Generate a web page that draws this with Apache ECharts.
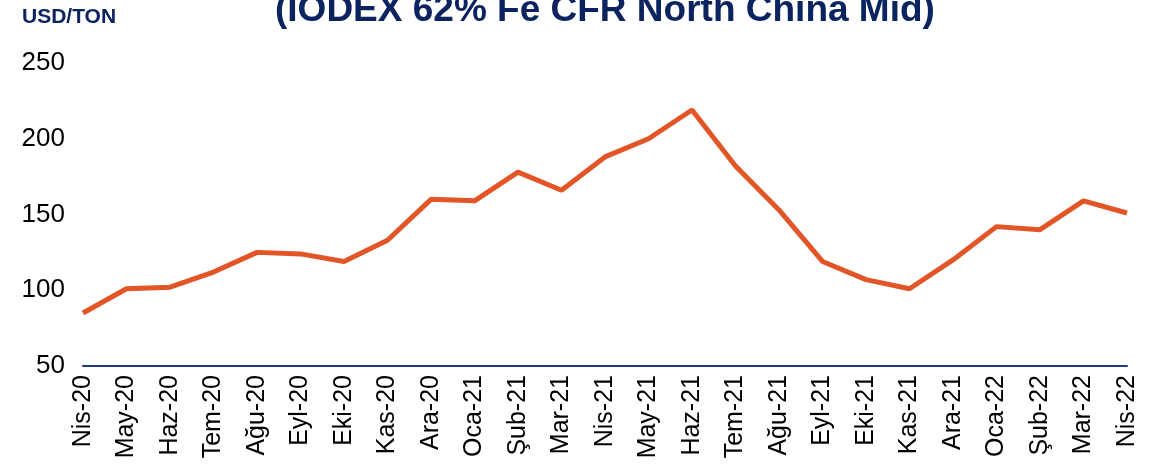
<!DOCTYPE html>
<html>
<head>
<meta charset="utf-8">
<script src="https://cdn.jsdelivr.net/npm/echarts@6/dist/echarts.min.js"></script>
<style>
html,body{margin:0;padding:0;background:#fff;}
#main{width:1165px;height:472px;}
</style>
</head>
<body>
<div id="main"></div>
<script>
// aylar ve demir cevheri fiyatlari
var months = ['Nis-20','May-20','Haz-20','Tem-20','Ağu-20','Eyl-20','Eki-20','Kas-20','Ara-20',
	'Oca-21','Şub-21','Mar-21','Nis-21','May-21','Haz-21','Tem-21','Ağu-21','Eyl-21','Eki-21',
	'Kas-21','Ara-21','Oca-22','Şub-22','Mar-22','Nis-22'];
var prices = [85, 101, 102, 112, 125, 124, 119, 133, 160, 159, 178, 166, 188, 200, 219,
	182, 153, 119, 107, 101, 120, 142, 140, 159, 151];
var yTicks = [50, 100, 150, 200, 250];

var myChart = echarts.init(document.getElementById('main'));
var option = {
	animation: false,
	title: [{
		text: '(IODEX 62% Fe CFR North China Mid)',
		left: 270,
		top: -13,
		textStyle: {
			color: '#0b2460',
			fontFamily: 'Liberation Sans',
			fontWeight: 'bold',
			fontSize: 37
		}
	}, {
		text: 'USD/TON',
		left: 17,
		top: 2,
		textStyle: {
			color: '#0b2460',
			fontFamily: 'Liberation Sans',
			fontWeight: 'bold',
			fontSize: 21
		}
	}],
	grid: {
		left: 83,
		right: 38,
		top: 63,
		bottom: 106
	},
	xAxis: {
		type: 'category',
		data: months,
		boundaryGap: false,
		axisLine: {lineStyle: {color: '#1f3c7a', width: 2}},
		axisTick: {show: false},
		axisLabel: {
			interval: 0,
			rotate: 90,
			margin: 9,
			color: '#000',
			fontFamily: 'Liberation Sans',
			fontSize: 25
		}
	},
	yAxis: {
		type: 'value',
		min: yTicks[0],
		max: yTicks[yTicks.length - 1],
		interval: 50,
		axisLine: {show: false},
		axisTick: {show: false},
		splitLine: {show: false},
		axisLabel: {
			margin: 18,
			color: '#000',
			fontFamily: 'Liberation Sans',
			fontSize: 26
		}
	},
	series: [{
		type: 'line',
		data: prices,
		symbol: 'none',
		lineStyle: {color: '#e25527', width: 5}
	}]
};
myChart.setOption(option);
</script>
</body>
</html>
